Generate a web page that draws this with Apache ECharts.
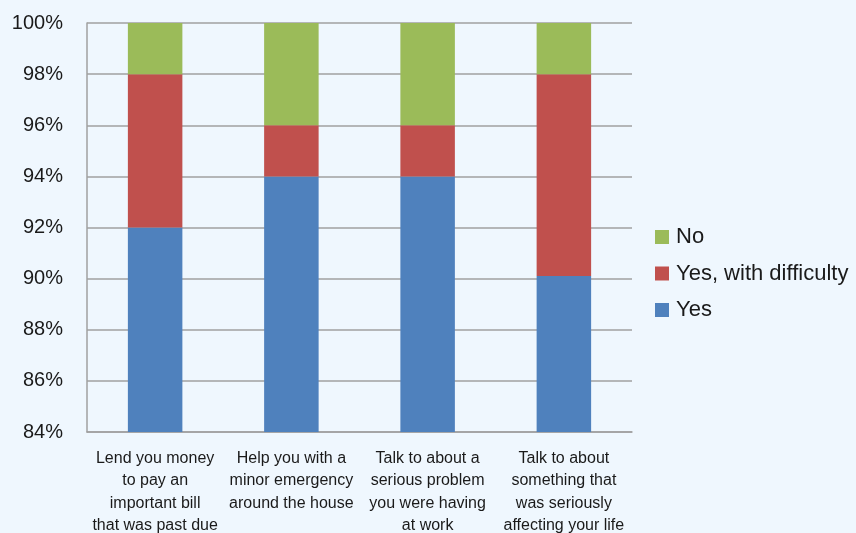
<!DOCTYPE html>
<html>
<head>
<meta charset="utf-8">
<style>
  html, body { margin: 0; padding: 0; background: #eff7fe; }
  #chart { width: 856px; height: 533px; }
</style>
<script src="https://cdn.jsdelivr.net/npm/echarts@6/dist/echarts.min.js"></script>
</head>
<body>
<div id="chart"></div>
<script>
// Survey questions (x-axis categories)
const categories = [
  'Lend you money\nto pay an\nimportant bill\nthat was past due',
  'Help you with a\nminor emergency\naround the house',
  'Talk to about a\nserious problem\nyou were having\nat work',
  'Talk to about\nsomething that\nwas seriously\naffecting your life'
];

// Share of answers, in percent
const yesValues = [92, 94, 94, 90.1];
const difficultyValues = [6, 2, 2, 7.9];
const noValues = [2, 4, 4, 2];

const seriesNames = ['Yes', 'Yes, with difficulty', 'No'];
const colors = ['#4f81bd', '#c0504d', '#9bbb59'];

const textColor = '#1a1a1a';
const fontFamily = '"Liberation Sans", Arial, sans-serif';

const chart = echarts.init(document.getElementById('chart'));

const makeBar = (name, values, color) => ({
  name: name,
  type: 'bar',
  stack: 'total',
  data: values,
  barWidth: '40%',
  itemStyle: { color: color },
  emphasis: { disabled: true }
});

chart.setOption({
  backgroundColor: '#eff7fe',
  animation: false,
  textStyle: { fontFamily: fontFamily, color: textColor },
  grid: { left: 87, right: 224, top: 23, bottom: 101, containLabel: false, outerBoundsMode: 'none' },
  legend: {
    data: ['No', 'Yes, with difficulty', 'Yes'],
    orient: 'vertical',
    left: 650,
    top: 221,
    itemWidth: 14,
    itemHeight: 14,
    itemGap: 14.5,
    icon: 'rect',
    textStyle: { fontSize: 22, lineHeight: 22, color: textColor, fontFamily: fontFamily, padding: [0, 0, 0, 2] }
  },
  xAxis: {
    type: 'category',
    data: categories,
    axisLine: { show: true, lineStyle: { color: '#a0a0a0', width: 1.5 } },
    axisTick: { show: false },
    axisLabel: {
      interval: 0,
      margin: 15,
      fontSize: 16,
      lineHeight: 22.5,
      color: textColor,
      fontFamily: fontFamily,
      verticalAlign: 'top'
    }
  },
  yAxis: {
    type: 'value',
    min: 84,
    max: 100,
    interval: 2,
    axisLine: { show: true, lineStyle: { color: '#a0a0a0', width: 1.5 } },
    axisTick: { show: false },
    splitLine: { lineStyle: { color: '#a0a0a0', width: 1.5 } },
    axisLabel: {
      formatter: '{value}%',
      fontSize: 20,
      margin: 24,
      color: textColor,
      fontFamily: fontFamily
    }
  },
  series: [
    makeBar(seriesNames[0], yesValues, colors[0]),
    makeBar(seriesNames[1], difficultyValues, colors[1]),
    makeBar(seriesNames[2], noValues, colors[2])
  ]
});
</script>
</body>
</html>
